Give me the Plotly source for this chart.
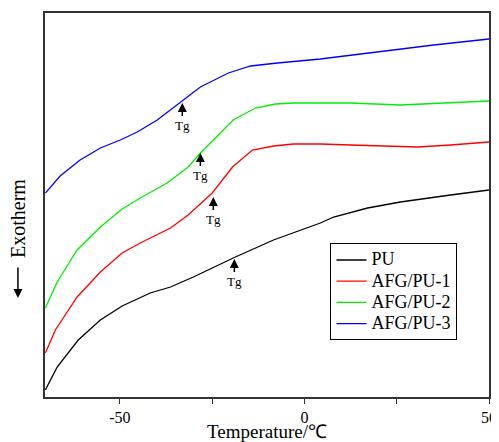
import plotly.graph_objects as go

# Temperatures (°C) and heat flow (arbitrary units, larger = higher on chart)
pu_t = [-70.2, -67, -61.3, -55.3, -49.4, -41.8, -36.3, -30.1, -19.3, -8.4, 4.3, 7.9, 17.1, 26, 39.6, 50]
pu_y = [0.7, 3.0, 5.7, 7.7, 9.1, 10.4, 11.0, 12.0, 13.9, 15.7, 17.4, 18.0, 18.9, 19.5, 20.2, 20.7]

afg1_t = [-70.2, -67.5, -61.6, -55.3, -49.4, -44.5, -36.3, -31.5, -25, -19.5, -14.1, -8.4, -3, 4.3, 12.5, 30.6, 39.6, 50]
afg1_y = [4.4, 6.7, 10.0, 12.5, 14.4, 15.4, 16.9, 18.2, 20.4, 23.0, 24.7, 25.1, 25.3, 25.3, 25.2, 25.0, 25.2, 25.5]

afg2_t = [-70.2, -67, -61.6, -55.3, -49.4, -44.5, -37.2, -31.5, -28.2, -19.3, -13.3, -7.9, -3, 4.3, 12.5, 26, 39.6, 50]
afg2_y = [8.9, 11.5, 14.7, 17.0, 18.8, 19.9, 21.4, 23.0, 24.4, 27.7, 28.9, 29.3, 29.4, 29.4, 29.4, 29.2, 29.4, 29.6]

afg3_t = [-70.2, -66.2, -60.8, -55.3, -49.9, -45.3, -39.9, -32.8, -28.2, -25.5, -20.6, -14.6, -7.3, 4.3, 17.1, 26, 35, 50]
afg3_y = [20.4, 22.1, 23.7, 24.9, 25.7, 26.5, 27.7, 29.7, 31.0, 31.5, 32.4, 33.1, 33.4, 33.8, 34.4, 34.8, 35.2, 35.8]

names = ["PU", "AFG/PU-1", "AFG/PU-2", "AFG/PU-3"]
colors = ["#000000", "#ff0000", "#00ee00", "#0000ff"]

tg_t = [-19.0, -24.7, -28.2, -33.1]
tg_y = [13.8, 20.0, 24.4, 29.4]

xtick_vals = [-50, -25, 0, 25, 50]
xtick_text = ["-50", "", "0", "", "50"]

FONT = "Liberation Serif"

fig = go.Figure()
series = [(pu_t, pu_y), (afg1_t, afg1_y), (afg2_t, afg2_y), (afg3_t, afg3_y)]
for (t, y), n, c in zip(series, names, colors):
    fig.add_trace(go.Scatter(x=t, y=y, mode="lines",
                             name=f"<span style='font-size:18px'>{n}</span>",
                             line=dict(color=c, width=1.3)))

for t, y in zip(tg_t, tg_y):
    fig.add_annotation(x=t, y=y, xref="x", yref="y", text="Tg", showarrow=True,
                       arrowhead=2, arrowsize=1.2, arrowwidth=1.5, arrowcolor="black",
                       ax=0, ay=22, font=dict(family=FONT, size=13, color="black"))

# y-axis label with arrow
fig.add_annotation(xref="paper", yref="paper", x=-0.061, y=0.466, text="Exotherm",
                   xanchor="center", yanchor="middle",
                   showarrow=False, textangle=-90,
                   font=dict(family=FONT, size=20, color="black"))
fig.add_annotation(xref="paper", yref="paper", x=-0.061, y=0.258, text="",
                   showarrow=True, arrowhead=2, arrowsize=1.2, arrowwidth=1.5,
                   arrowcolor="black", ax=0, ay=-32)

# page body has an 8px default margin, so the figure is sized to fill the rest
fig.update_layout(
    width=491, height=434,
    margin=dict(l=37, r=10, t=5, b=45, autoexpand=False),
    paper_bgcolor="white", plot_bgcolor="white",
    font=dict(family=FONT, size=17, color="black"),
    showlegend=True,
    legend=dict(x=0.643, y=0.40, xanchor="left", yanchor="top",
                bordercolor="black", borderwidth=1, bgcolor="white",
                font=dict(family=FONT, size=14), tracegroupgap=0,
                entrywidth=115, entrywidthmode="pixels"),
    xaxis=dict(range=[-70.3, 50], tickvals=xtick_vals, ticktext=xtick_text,
               ticks="outside", ticklen=5, tickcolor="#333", showgrid=False,
               zeroline=False, showline=True, linecolor="#333", linewidth=1.5,
               mirror=True,
               title=dict(text="Temperature/℃", font=dict(family=FONT, size=19), standoff=0),
               tickfont=dict(family=FONT, size=16)),
    yaxis=dict(range=[0, 38.4], showticklabels=False, ticks="", showgrid=False,
               zeroline=False, showline=True, linecolor="#333", linewidth=1.5,
               mirror=True),
)

fig.write_html("out.html")
